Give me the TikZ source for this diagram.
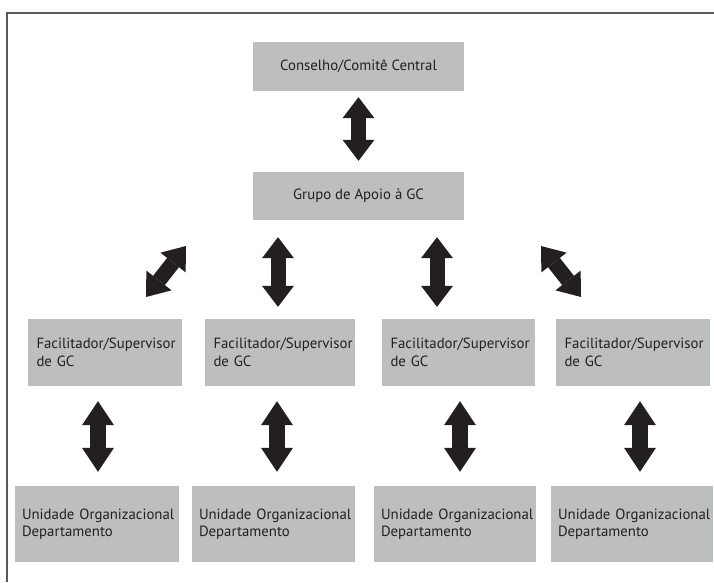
\documentclass[tikz,border=0pt]{standalone}
\usepackage{fontspec}
\setmainfont{PT Sans}
\usetikzlibrary{arrows.meta}
\definecolor{boxgray}{RGB}{188,190,192}
\definecolor{ink}{RGB}{35,31,32}
\definecolor{framec}{RGB}{88,89,91}
\begin{document}
\begin{tikzpicture}[x=1pt,y=-1pt,
  box/.style={fill=boxgray, text=ink, inner ysep=0pt, align=left,
    font=\fontsize{14.8}{17.5}\selectfont},
  cbox/.style={box, align=center, minimum width=211pt},
  fbox/.style={box, inner xsep=8.5pt, minimum height=67pt},
  ubox/.style={box, inner xsep=7pt, minimum height=76pt},
  blockarrow/.style={ink, line width=15pt,
    {Triangle[width=32pt,length=21pt,line width=0pt]}-{Triangle[width=32pt,length=21pt,line width=0pt]}},
  bigarrow/.style={ink, line width=16pt,
    {Triangle[width=32pt,length=24pt,line width=0pt]}-{Triangle[width=32pt,length=24pt,line width=0pt]}}
]
\useasboundingbox (0,0) rectangle (714,582);
\draw[framec, line width=1.5pt] (714,13) -- (7,13) -- (7,582);

% top level
\node[cbox, minimum height=49pt] (top) at (358.5,66.5) {Conselho/Comitê Central};
\node[cbox, minimum height=48pt] (grupo) at (358.5,196) {Grupo de Apoio à GC};

% facilitators
\node[fbox, text width=137pt] (f1) at (105,352.5) {\mbox{Facilitador/Supervisor}\\de GC};
\node[fbox, text width=133pt] (f2) at (280,352.5) {\mbox{Facilitador/Supervisor}\\de GC};
\node[fbox, text width=136pt] (f3) at (458.5,352.5) {\mbox{Facilitador/Supervisor}\\de GC};
\node[fbox, text width=137pt] (f4) at (633,352.5) {\mbox{Facilitador/Supervisor}\\de GC};

% units
\node[ubox, text width=150pt] (u1) at (97,524) {\mbox{Unidade Organizacional}\\Departamento};
\node[ubox, text width=149pt] (u2) at (273.5,524) {\mbox{Unidade Organizacional}\\Departamento};
\node[ubox, text width=148pt] (u3) at (455,524) {\mbox{Unidade Organizacional}\\Departamento};
\node[ubox, text width=148pt] (u4) at (632,524) {\mbox{Unidade Organizacional}\\Departamento};

% connectors
\draw[blockarrow, shorten <=6pt, shorten >=11pt] (top) -- (grupo);

\coordinate (c2) at (278,0);
\coordinate (c3) at (437,0);
\draw[blockarrow, shorten <=17pt, shorten >=12pt] (grupo.south -| c2) -- (f2.north -| c2);
\draw[blockarrow, shorten <=17pt, shorten >=12pt] (grupo.south -| c3) -- (f3.north -| c3);

\coordinate (d1a) at (186,246);
\coordinate (d1b) at (146,297);
\coordinate (d4a) at (541,246);
\coordinate (d4b) at (581,297);
\draw[blockarrow] (d1a) -- (d1b);
\draw[blockarrow] (d4a) -- (d4b);

\coordinate (k1) at (98,0);
\coordinate (k2) at (277,0);
\coordinate (k3) at (460,0);
\coordinate (k4) at (640,0);
\draw[bigarrow, shorten <=15pt, shorten >=14pt] (f1.south -| k1) -- (u1.north -| k1);
\draw[bigarrow, shorten <=15pt, shorten >=14pt] (f2.south -| k2) -- (u2.north -| k2);
\draw[bigarrow, shorten <=15pt, shorten >=14pt] (f3.south -| k3) -- (u3.north -| k3);
\draw[bigarrow, shorten <=15pt, shorten >=14pt] (f4.south -| k4) -- (u4.north -| k4);
\end{tikzpicture}
\end{document}
